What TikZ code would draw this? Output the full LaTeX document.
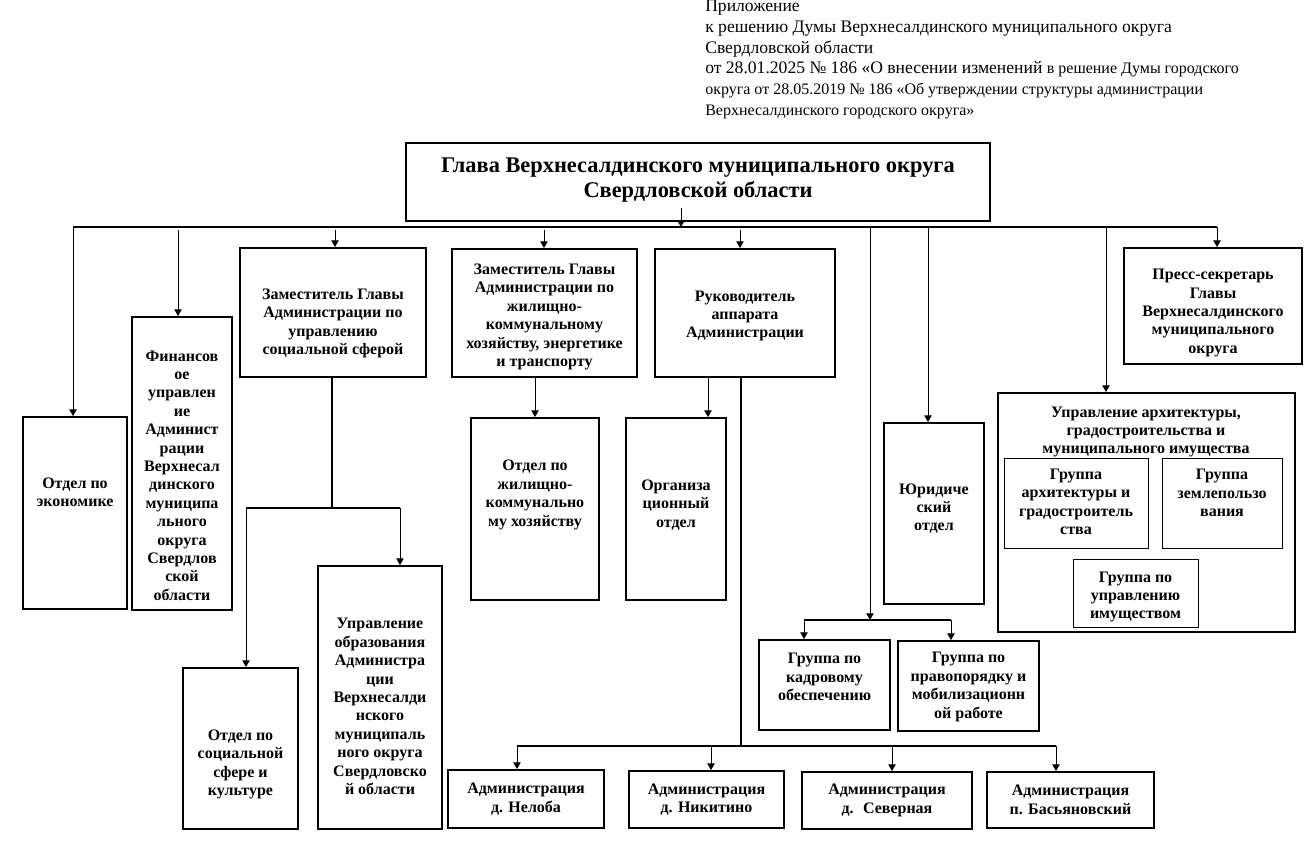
\documentclass[tikz,border=0pt]{standalone}
\usepackage{fontspec}
\setmainfont{Liberation Serif}
\usepackage{tikz}
\usetikzlibrary{fit,calc,arrows.meta}
\tikzstyle{txt} = [align=center, inner sep=0pt, font=\bfseries\fontsize{12}{13.8}\selectfont]
\tikzstyle{unit} = [shape=rectangle, draw, line width=1.4pt, inner sep=0pt]
\tikzstyle{group} = [unit, line width=0.75pt]
\tikzstyle{arr} = [-{Triangle[length=5pt,width=5.5pt]}, line width=0.7pt]
\tikzstyle{bus} = [line width=1.2pt]

\begin{document}
\begin{tikzpicture}[x=0.75pt, y=-0.75pt]
  \useasboundingbox (0,0) rectangle (1312,842);

  \node[anchor=north west, align=left, inner sep=0pt, font=\fontsize{13.2}{15.5}\selectfont] (note) at (705,0)
    {Приложение\\
     к решению Думы Верхнесалдинского муниципального округа\\
     Свердловской области\\
     от 28.01.2025 № 186 «О внесении изменений {\fontsize{12}{15.5}\selectfont в решение Думы городского}\\
     {\fontsize{12}{15.5}\selectfont округа от 28.05.2019 № 186 «Об утверждении структуры администрации}\\
     {\fontsize{12}{15.5}\selectfont Верхнесалдинского городского округа»}};

  \node[unit, fit={(406,143) (990,221)},
    label={[txt, font=\bfseries\fontsize{16.8}{19}\selectfont, yshift=1.5pt]center:{Глава Верхнесалдинского муниципального округа\\Свердловской области}}] (glava) {};

  % first level
  \node[unit, fit={(23,417) (127,609)},
    label={[txt, yshift=15.75pt]center:{Отдел по\\экономике}}] (econ) {};
  \node[unit, fit={(132,317) (232,610)},
    label={[txt, yshift=-9pt]center:{Финансов\\ое\\управлен\\ие\\Админист\\рации\\Верхнесал\\динского\\муниципа\\льного\\округа\\Свердлов\\ской\\области}}] (fin) {};
  \node[unit, fit={(240,248) (426,377)},
    label={[txt, yshift=-8.25pt]center:{Заместитель Главы\\Администрации по\\управлению\\социальной сферой}}] (soc) {};
  \node[unit, fit={(452,249) (637,377)},
    label={[txt, yshift=-3pt]center:{Заместитель Главы\\Администрации по\\жилищно-\\коммунальному\\хозяйству, энергетике\\и транспорту}}] (zkh) {};
  \node[unit, fit={(655,249) (835,377)},
    label={[txt, yshift=-2.25pt]center:{Руководитель\\аппарата\\Администрации}}] (ruk) {};
  \node[unit, fit={(884,423) (984,604)},
    label={[txt, yshift=3.75pt]center:{Юридиче\\ский\\отдел}}] (yur) {};
  \node[unit, fit={(998,393) (1295,632)}] (arch) {};
  \node[txt] (archtitle) at (1146,432)
    {Управление архитектуры,\\градостроительства и\\муниципального имущества};
  \node[group, fit={(1004,458) (1148,548)},
    label={[txt, yshift=0.75pt]center:{Группа\\архитектуры и\\градостроитель\\ства}}] (garch) {};
  \node[group, fit={(1162,458) (1282,548)},
    label={[txt, yshift=7.5pt]center:{Группа\\землепользо\\вания}}] (gland) {};
  \node[group, fit={(1073,559) (1198,627)},
    label={[txt, yshift=-3pt]center:{Группа по\\управлению\\имуществом}}] (gprop) {};
  \node[unit, fit={(1124,248) (1302,364)},
    label={[txt, yshift=-5.25pt]center:{Пресс-секретарь\\Главы\\Верхнесалдинского\\муниципального\\округа}}] (press) {};

  % second level
  \node[unit, fit={(183,668) (298,829)},
    label={[txt, yshift=-12pt]center:{Отдел по\\социальной\\сфере и\\культуре}}] (kult) {};
  \node[unit, fit={(318,566) (442,829)},
    label={[txt, yshift=-6.75pt]center:{Управление\\образования\\Администра\\ции\\Верхнесалди\\нского\\муниципаль\\ного округа\\Свердловско\\й области}}] (obr) {};
  \node[unit, fit={(471,418) (599,600)},
    label={[txt, yshift=10.5pt]center:{Отдел по\\жилищно-\\коммунально\\му хозяйству}}] (otdzkh) {};
  \node[unit, fit={(626,418) (726,600)},
    label={[txt, yshift=3pt]center:{Организа\\ционный\\отдел}}] (org) {};
  \node[unit, fit={(759,640) (890,730)},
    label={[txt, yshift=6pt]center:{Группа по\\кадровому\\обеспечению}}] (kadr) {};
  \node[unit, fit={(898,641) (1039,731)},
    label={[txt, yshift=-0.75pt]center:{Группа по\\правопорядку и\\мобилизационн\\ой работе}}] (prav) {};
  \node[unit, fit={(448,770) (604,828)},
    label={[txt]center:{Администрация\\д. Нелоба}}] (nel) {};
  \node[unit, fit={(629,771) (784,828)},
    label={[txt]center:{Администрация\\д. Никитино}}] (nik) {};
  \node[unit, fit={(802,772) (972,829)},
    label={[txt]center:{Администрация\\д.~ Северная}}] (sev) {};
  \node[unit, fit={(987,772) (1154,828)},
    label={[txt]center:{Администрация\\п. Басьяновский}}] (bas) {};

  % main bus
  \coordinate (bEcon) at (73,227);
  \coordinate (bFin) at (178,227);
  \coordinate (bSoc) at (335,227);
  \coordinate (bTop) at (681,227);
  \coordinate (bZkh) at (544,227);
  \coordinate (bRuk) at (740,227);
  \coordinate (bGrp) at (870,227);
  \coordinate (bYur) at (928,227);
  \coordinate (bArch) at (1106,227);
  \coordinate (bPress) at (1217,227);
  \draw[bus] (bEcon) -- (bPress);
  \draw[arr] ($(bTop |- glava.south)+(0,-14)$) -- (bTop);
  \draw[arr] (bEcon) -- (econ.north -| bEcon);
  \draw[arr] ($(bFin)+(0,3)$) -- (fin.north -| bFin);
  \draw[arr] ($(bSoc)+(0,3)$) -- (soc.north -| bSoc);
  \draw[arr] ($(bZkh)+(0,3)$) -- (zkh.north -| bZkh);
  \draw[arr] ($(bRuk)+(0,3)$) -- (ruk.north -| bRuk);
  \draw[arr] (bYur) -- (yur.north -| bYur);
  \draw[arr] (bArch) -- (arch.north -| bArch);
  \draw[arr] (bPress) -- (press.north -| bPress);

  % social sphere
  \coordinate (socJ) at (332,508);
  \coordinate (socL) at (246,508);
  \coordinate (socR) at (400,508);
  \draw[bus] (soc.south -| socJ) -- (socJ);
  \draw[bus] (socL) -- (socR);
  \draw[arr] (socL) -- (kult.north -| socL);
  \draw[arr] (socR) -- (obr.north -| socR);

  % housing
  \draw[arr] (otdzkh.north |- zkh.south) -- (otdzkh.north);

  % apparatus
  \coordinate (rOrg) at (708,377);
  \draw[arr] (rOrg) -- (org.north -| rOrg);
  \coordinate (admJ) at (741,746);
  \coordinate (a1) at (517,746);
  \coordinate (a2) at (711,746);
  \coordinate (a3) at (892,746);
  \coordinate (a4) at (1056,746);
  \draw[bus] (ruk.south -| admJ) -- (admJ);
  \draw[bus] (a1) -- (a4);
  \draw[arr] (a1) -- (nel.north -| a1);
  \draw[arr] (a2) -- (nik.north -| a2);
  \draw[arr] (a3) -- (sev.north -| a3);
  \draw[arr] (a4) -- (bas.north -| a4);

  % groups
  \coordinate (gJ) at (870,620);
  \coordinate (gL) at (804,620);
  \coordinate (gR) at (951,620);
  \draw[arr] (bGrp) -- (gJ);
  \draw[bus] (gL) -- (gR);
  \draw[arr] (gL) -- (kadr.north -| gL);
  \draw[arr] (gR) -- (prav.north -| gR);
\end{tikzpicture}
\end{document}
